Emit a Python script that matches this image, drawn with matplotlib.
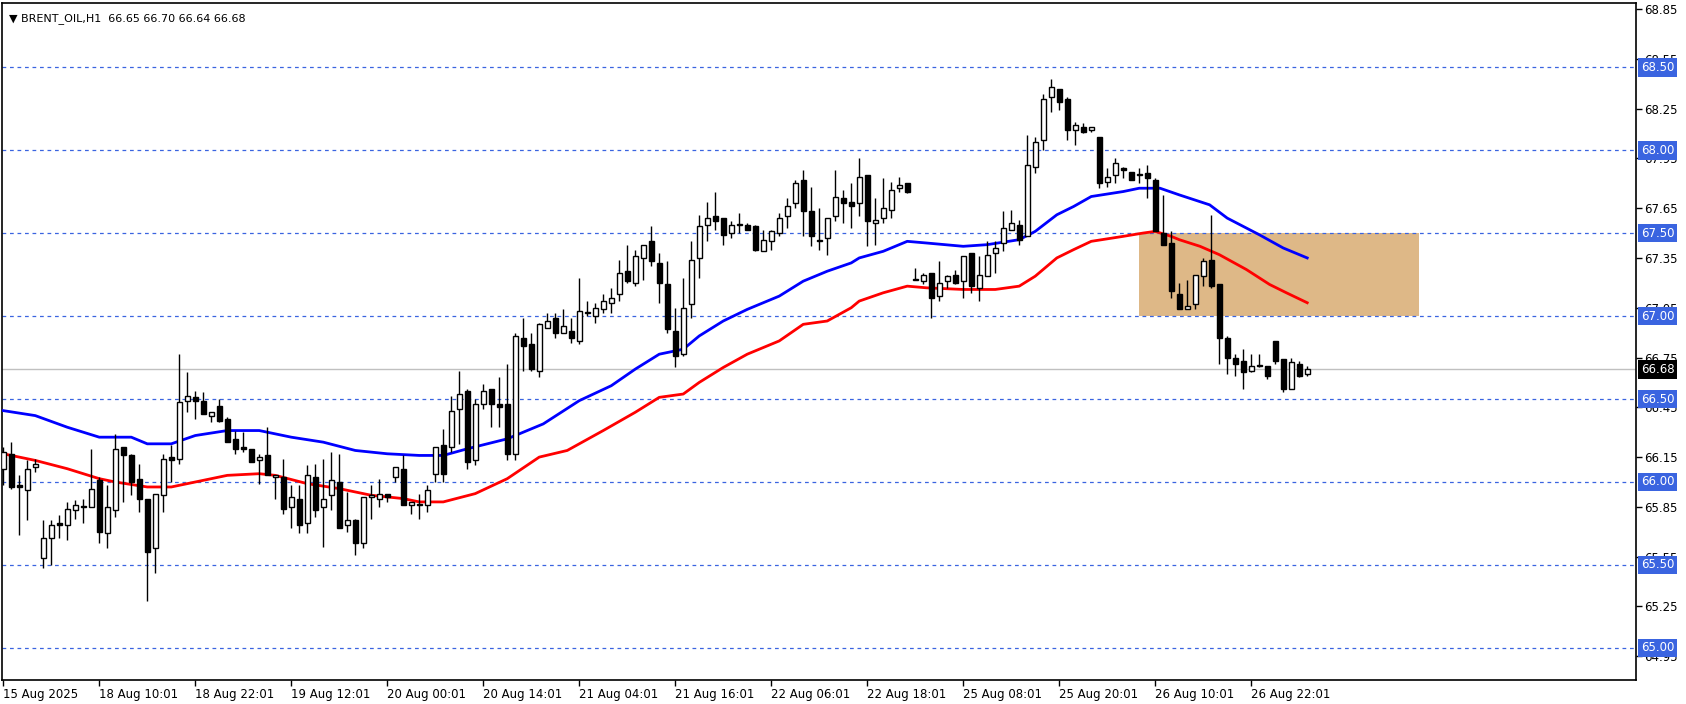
import matplotlib
matplotlib.use('Agg')
import matplotlib.pyplot as plt
from matplotlib.patches import Rectangle
import numpy as np

# hourly candles (open, high, low, close)
opens = [66.08, 66.17, 65.98, 65.95, 66.09, 65.54, 65.66, 65.75, 65.74, 65.83,
         65.85, 65.85, 66.01, 65.69, 65.83, 66.21, 66.16, 66.02, 65.90, 65.60,
         65.92, 66.15, 66.14, 66.49, 66.51, 66.49, 66.40, 66.46, 66.38, 66.26,
         66.21, 66.20, 66.13, 66.16, 66.03, 66.03, 65.85, 65.90, 65.75, 66.03,
         65.85, 65.92, 66.00, 65.74, 65.77, 65.63, 65.91, 65.90, 65.93, 66.03,
         66.08, 65.86, 65.87, 65.86, 66.05, 66.22, 66.21, 66.44, 66.55, 66.13,
         66.47, 66.56, 66.47, 66.47, 66.17, 66.87, 66.83, 66.67, 66.93, 66.99,
         66.90, 66.91, 66.85, 67.02, 67.00, 67.04, 67.08, 67.13, 67.27, 67.20,
         67.35, 67.45, 67.32, 67.19, 66.91, 66.77, 67.07, 67.35, 67.55, 67.60,
         67.59, 67.50, 67.55, 67.55, 67.54, 67.39, 67.45, 67.50, 67.60, 67.68,
         67.82, 67.63, 67.46, 67.47, 67.60, 67.71, 67.69, 67.68, 67.85, 67.56,
         67.59, 67.64, 67.77, 67.80, 67.22, 67.21, 67.26, 67.12, 67.21, 67.25,
         67.21, 67.38, 67.17, 67.24, 67.38, 67.44, 67.52, 67.55, 67.48, 67.90,
         68.06, 68.32, 68.37, 68.31, 68.12, 68.14, 68.12, 68.08, 67.81, 67.85,
         67.89, 67.87, 67.85, 67.86, 67.82, 67.50, 67.44, 67.13, 67.04, 67.07,
         67.24, 67.34, 67.19, 66.87, 66.75, 66.73, 66.67, 66.70, 66.70, 66.85,
         66.74, 66.56, 66.71, 66.65]
highs = [66.21, 66.24, 66.04, 66.13, 66.14, 65.77, 65.77, 65.80, 65.88, 65.89,
         65.90, 66.20, 66.03, 65.98, 66.29, 66.21, 66.17, 66.11, 65.90, 65.93,
         66.17, 66.22, 66.77, 66.66, 66.55, 66.54, 66.42, 66.50, 66.39, 66.31,
         66.30, 66.20, 66.17, 66.33, 66.04, 66.14, 65.98, 65.98, 66.10, 66.11,
         66.14, 66.18, 66.17, 65.94, 65.78, 65.91, 65.98, 66.02, 65.93, 66.09,
         66.16, 65.88, 65.93, 65.98, 66.21, 66.32, 66.52, 66.67, 66.56, 66.50,
         66.59, 66.56, 66.63, 66.71, 66.90, 66.99, 66.90, 66.96, 67.02, 67.02,
         67.04, 66.99, 67.23, 67.09, 67.08, 67.13, 67.17, 67.34, 67.43, 67.40,
         67.43, 67.54, 67.38, 67.33, 67.05, 67.23, 67.45, 67.61, 67.69, 67.75,
         67.59, 67.57, 67.62, 67.56, 67.55, 67.52, 67.52, 67.62, 67.71, 67.82,
         67.88, 67.78, 67.65, 67.59, 67.88, 67.76, 67.80, 67.95, 67.85, 67.71,
         67.83, 67.81, 67.84, 67.80, 67.29, 67.26, 67.26, 67.33, 67.25, 67.28,
         67.36, 67.38, 67.36, 67.45, 67.45, 67.63, 67.64, 67.58, 68.09, 68.08,
         68.34, 68.43, 68.37, 68.32, 68.17, 68.16, 68.14, 68.08, 67.89, 67.95,
         67.90, 67.87, 67.89, 67.91, 67.83, 67.73, 67.51, 67.20, 67.22, 67.25,
         67.35, 67.61, 67.19, 66.88, 66.77, 66.80, 66.77, 66.77, 66.70, 66.85,
         66.74, 66.75, 66.73, 66.70]
lows = [65.98, 65.96, 65.68, 65.77, 66.06, 65.48, 65.50, 65.66, 65.65, 65.78,
        65.75, 65.85, 65.63, 65.60, 65.79, 65.88, 65.92, 65.82, 65.28, 65.45,
        65.82, 66.00, 66.11, 66.42, 66.38, 66.41, 66.36, 66.36, 66.24, 66.17,
        66.18, 66.12, 65.99, 66.04, 65.90, 65.81, 65.72, 65.69, 65.69, 65.79,
        65.61, 65.83, 65.72, 65.70, 65.56, 65.60, 65.78, 65.85, 65.88, 66.00,
        65.86, 65.81, 65.78, 65.82, 66.00, 66.00, 66.18, 66.23, 66.08, 66.10,
        66.44, 66.33, 66.33, 66.13, 66.13, 66.67, 66.67, 66.63, 66.93, 66.87,
        66.90, 66.84, 66.83, 67.00, 66.96, 67.02, 67.02, 67.09, 67.20, 67.18,
        67.22, 67.30, 67.08, 66.90, 66.69, 66.76, 66.99, 67.23, 67.45, 67.52,
        67.43, 67.47, 67.50, 67.52, 67.39, 67.39, 67.40, 67.48, 67.53, 67.65,
        67.48, 67.42, 67.40, 67.37, 67.57, 67.56, 67.53, 67.60, 67.42, 67.43,
        67.56, 67.59, 67.75, 67.74, 67.22, 67.19, 66.99, 67.09, 67.17, 67.19,
        67.11, 67.14, 67.09, 67.24, 67.26, 67.39, 67.52, 67.43, 67.48, 67.86,
        68.00, 68.23, 68.24, 68.06, 68.03, 68.10, 68.11, 67.77, 67.78, 67.80,
        67.83, 67.82, 67.80, 67.71, 67.51, 67.43, 67.11, 67.04, 67.04, 67.04,
        67.18, 67.17, 66.71, 66.65, 66.64, 66.56, 66.66, 66.69, 66.62, 66.71,
        66.54, 66.56, 66.63, 66.64]
closes = [66.18, 65.97, 65.97, 66.08, 66.11, 65.66, 65.74, 65.74, 65.84, 65.86,
          65.85, 65.96, 65.70, 65.85, 66.20, 66.16, 66.00, 65.90, 65.58, 65.93,
          66.14, 66.13, 66.48, 66.52, 66.49, 66.41, 66.42, 66.37, 66.24, 66.20,
          66.20, 66.12, 66.15, 66.04, 66.04, 65.84, 65.91, 65.74, 66.04, 65.83,
          65.90, 66.01, 65.72, 65.77, 65.63, 65.91, 65.92, 65.93, 65.91, 66.09,
          65.86, 65.88, 65.86, 65.95, 66.21, 66.05, 66.43, 66.53, 66.12, 66.47,
          66.55, 66.47, 66.45, 66.17, 66.88, 66.82, 66.68, 66.95, 66.97, 66.90,
          66.94, 66.87, 67.03, 67.02, 67.05, 67.09, 67.11, 67.26, 67.21, 67.36,
          67.43, 67.33, 67.20, 66.92, 66.76, 67.05, 67.34, 67.54, 67.59, 67.57,
          67.49, 67.55, 67.55, 67.52, 67.40, 67.46, 67.51, 67.59, 67.66, 67.80,
          67.63, 67.48, 67.45, 67.59, 67.72, 67.68, 67.66, 67.84, 67.57, 67.58,
          67.65, 67.76, 67.79, 67.75, 67.22, 67.25, 67.11, 67.20, 67.24, 67.20,
          67.36, 67.18, 67.25, 67.37, 67.41, 67.53, 67.56, 67.46, 67.91, 68.05,
          68.31, 68.38, 68.29, 68.12, 68.15, 68.11, 68.14, 67.80, 67.84, 67.92,
          67.88, 67.82, 67.85, 67.83, 67.51, 67.43, 67.15, 67.04, 67.06, 67.25,
          67.33, 67.18, 66.87, 66.75, 66.71, 66.66, 66.70, 66.70, 66.64, 66.73,
          66.56, 66.72, 66.64, 66.68]

# moving averages, sampled along the lines (bar index, price)
ma_blue_idx = [0, 4, 8, 12, 16, 18, 21, 24, 28, 32, 36, 40, 44, 48, 52, 55, 58,
               63, 67.5, 72, 76, 79, 82, 85, 87, 90, 93, 97, 100, 103, 106, 107,
               110, 113, 115.4, 120, 123, 127, 129, 131.7, 133.8, 136, 140, 142,
               144.6, 147, 150.8, 153, 157, 160, 163]
ma_blue = [66.43, 66.40, 66.33, 66.27, 66.27, 66.23, 66.23, 66.28, 66.31, 66.31,
           66.27, 66.24, 66.19, 66.17, 66.16, 66.16, 66.20, 66.26, 66.35, 66.49,
           66.58, 66.68, 66.77, 66.80, 66.88, 66.97, 67.04, 67.12, 67.21, 67.27,
           67.32, 67.35, 67.39, 67.45, 67.44, 67.42, 67.43, 67.46, 67.51, 67.61,
           67.66, 67.72, 67.75, 67.77, 67.77, 67.73, 67.67, 67.59, 67.49, 67.41,
           67.35]
ma_red_idx = [0, 4, 8, 12, 14, 18, 21, 24, 28, 32, 34, 38, 42, 46, 50, 52, 55,
              59, 63, 67, 70.5, 75, 79, 82, 85, 87, 90, 93, 97, 100, 103, 106,
              107, 110, 113, 115.4, 120, 124, 127, 129, 131.7, 133.8, 136, 140,
              142.5, 144, 146, 147, 149.6, 152, 155.4, 158.3, 160.4, 163]
ma_red = [66.17, 66.13, 66.08, 66.02, 66.00, 65.97, 65.97, 66.00, 66.04, 66.05,
          66.04, 65.99, 65.96, 65.92, 65.90, 65.88, 65.88, 65.93, 66.02, 66.15,
          66.19, 66.31, 66.42, 66.51, 66.53, 66.60, 66.69, 66.77, 66.85, 66.95,
          66.97, 67.05, 67.09, 67.14, 67.18, 67.17, 67.16, 67.16, 67.18, 67.24,
          67.35, 67.40, 67.45, 67.48, 67.50, 67.51, 67.48, 67.46, 67.42, 67.37,
          67.28, 67.19, 67.14, 67.08]

tick_bars = [0, 12, 24, 36, 48, 60, 72, 84, 96, 108, 120, 132, 144, 156]
tick_labels = ['15 Aug 2025', '18 Aug 10:01', '18 Aug 22:01', '19 Aug 12:01',
               '20 Aug 00:01', '20 Aug 14:01', '21 Aug 04:01', '21 Aug 16:01',
               '22 Aug 06:01', '22 Aug 18:01', '25 Aug 08:01', '25 Aug 20:01',
               '26 Aug 10:01', '26 Aug 22:01']
levels = [65.0, 65.5, 66.0, 66.5, 67.0, 67.5, 68.0, 68.5]
price_ticks = [64.95, 65.25, 65.55, 65.85, 66.15, 66.45, 66.75, 67.05, 67.35,
               67.65, 67.95, 68.25, 68.55, 68.85]
last_price = 66.68
zone = (142, 177, 67.0, 67.5)  # bar from, bar to, low, high

W, H = 1686, 704
fig = plt.figure(figsize=(W / 100, H / 100), dpi=100)
ax = fig.add_axes([2 / W, 1 - 680 / H, 1634 / W, 677 / H])
ax.set_xlim(-0.16, 204.1)
ax.set_ylim(64.807, 68.886)
lvl_blue = '#3a64e0'

ax.add_patch(Rectangle((zone[0], zone[2]), zone[1] - zone[0], zone[3] - zone[2],
                       facecolor='#deb887', edgecolor='none', zorder=1))
for lv in levels:
    ax.axhline(lv, color=lvl_blue, lw=0.9, ls=(0, (3, 3)), zorder=2)
ax.axhline(last_price, color='#c0c0c0', lw=1, zorder=2)

ax.plot(ma_blue_idx, ma_blue, color='#0000ff', lw=2, zorder=3)
ax.plot(ma_red_idx, ma_red, color='#ff0000', lw=2, zorder=3)

for i, (o, h, l, c) in enumerate(zip(opens, highs, lows, closes)):
    ax.plot([i, i], [l, h], color='black', lw=1, zorder=4, solid_capstyle='butt')
    lo, hi = min(o, c), max(o, c)
    ax.add_patch(Rectangle((i - 0.3, lo), 0.6, max(hi - lo, 0.004),
                           facecolor='white' if c >= o else 'black',
                           edgecolor='black', lw=1, zorder=5))

ax.set_xticks(tick_bars)
ax.set_xticklabels(tick_labels, ha='left', fontsize=8.5)
ax.yaxis.tick_right()
ax.set_yticks(price_ticks)
ax.set_yticklabels(['%.2f' % p for p in price_ticks], fontsize=8.5)
ax.tick_params(length=4, width=1, color='black', pad=2)
for s in ax.spines.values():
    s.set_linewidth(1.2)

for lv in levels:
    ax.text(1.003, lv, '%.2f' % lv, transform=ax.get_yaxis_transform(),
            va='center', ha='left', fontsize=8.5, color='white',
            bbox=dict(boxstyle='square,pad=0.25', fc=lvl_blue, ec='none'))
ax.text(1.003, last_price, '%.2f' % last_price, transform=ax.get_yaxis_transform(),
        va='center', ha='left', fontsize=8.5, color='white',
        bbox=dict(boxstyle='square,pad=0.25', fc='black', ec='none'))

ax.text(0.004, 0.985, '\u25bc BRENT_OIL,H1  66.65 66.70 66.64 66.68',
        transform=ax.transAxes, va='top', ha='left', fontsize=8)

fig.savefig('out.png', dpi=100)
